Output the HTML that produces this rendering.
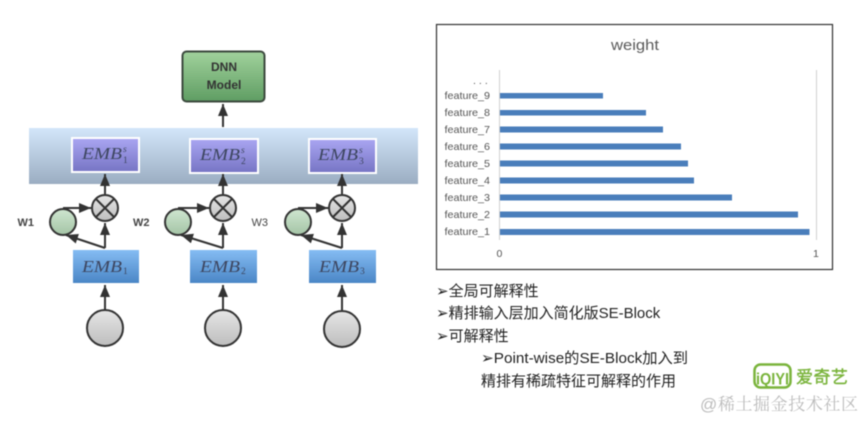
<!DOCTYPE html>
<html>
<head>
<meta charset="utf-8">
<style>
html,body{margin:0;padding:0;background:#fff;width:866px;height:422px;overflow:hidden}
svg{display:block}
.b{filter:blur(.45px)}
text{font-family:"Liberation Sans","Noto Sans CJK SC",sans-serif}
.m{font-family:"Liberation Serif",serif;font-style:italic;font-size:17px;fill:#3d4660}
.s{font-family:"Liberation Serif",serif;font-size:9.5px;fill:#3d4660}
.f{font-size:10.500px;fill:#555}
.w{font-size:11px;font-weight:bold;fill:#444}
.t{font-size:15px;fill:#222;font-family:"Liberation Sans","Noto Sans CJK SC",sans-serif}
</style>
</head>
<body>
<svg width="866" height="422" viewBox="0 0 866 422" xmlns="http://www.w3.org/2000/svg">
<defs>
<linearGradient id="band" x1="0" y1="0" x2="0" y2="1"><stop offset="0" stop-color="#d3e6fa"/><stop offset="1" stop-color="#9badc2"/></linearGradient>
<linearGradient id="pur" x1="0" y1="0" x2="0" y2="1"><stop offset="0" stop-color="#aaa6f2"/><stop offset="1" stop-color="#7674c4"/></linearGradient>
<linearGradient id="blu" x1="0" y1="0" x2="0" y2="1"><stop offset="0" stop-color="#85bcf3"/><stop offset="1" stop-color="#4a86c6"/></linearGradient>
<linearGradient id="gry" x1="0" y1="0" x2="0" y2="1"><stop offset="0" stop-color="#e6e6e6"/><stop offset="1" stop-color="#bdbdbd"/></linearGradient>
<linearGradient id="grn" x1="0" y1="0" x2="0" y2="1"><stop offset="0" stop-color="#cfe6d0"/><stop offset="1" stop-color="#a4c4a6"/></linearGradient>
<linearGradient id="dnn" x1="0" y1="0" x2="0" y2="1"><stop offset="0" stop-color="#a1d29c"/><stop offset="1" stop-color="#5f9d63"/></linearGradient>
<marker id="ah" markerUnits="userSpaceOnUse" markerWidth="14" markerHeight="12" refX="12" refY="5" orient="auto"><path d="M0,0 L12,5 L0,10 Z" fill="#333"/></marker>
</defs>
<rect width="866" height="422" fill="#fff"/>
<g class="b">
<rect x="29" y="128" width="389" height="56" fill="url(#band)"/>

<rect x="182.500" y="51.500" width="82" height="50" rx="4" fill="url(#dnn)" stroke="#3c4a3e" stroke-width="2"/>
<text x="224" y="71" text-anchor="middle" font-size="12" font-weight="bold" fill="#333">DNN</text>
<text x="224" y="89" text-anchor="middle" font-size="12" font-weight="bold" fill="#333">Model</text>
<path d="M223,127 V104" stroke="#333" stroke-width="2" fill="none" marker-end="url(#ah)"/>

<g id="c1">
<rect x="72" y="138" width="67" height="34" fill="url(#pur)" stroke="#fff" stroke-width="2"/>
<text class="m" x="82" y="159" textLength="40" lengthAdjust="spacingAndGlyphs">EMB</text><text class="s" x="123" y="152" font-style="italic">s</text><text class="s" x="123" y="163">1</text>
<path d="M105,194 V174" stroke="#333" stroke-width="2" fill="none" marker-end="url(#ah)"/>
<circle cx="105" cy="208" r="13" fill="url(#gry)" stroke="#333" stroke-width="2"/>
<path d="M96,199 L114,217 M114,199 L96,217" stroke="#333" stroke-width="2"/>
<circle cx="63" cy="222" r="13" fill="url(#grn)" stroke="#333" stroke-width="2"/>
<path d="M63,208 H91" stroke="#333" stroke-width="2" fill="none" marker-end="url(#ah)"/>
<path d="M105,248 V223" stroke="#333" stroke-width="2" fill="none" marker-end="url(#ah)"/>
<path d="M105,248 L66,235" stroke="#333" stroke-width="2" fill="none" marker-end="url(#ah)"/>
<rect x="73" y="250" width="66" height="33" fill="url(#blu)"/>
<text class="m" x="82" y="272" textLength="40" lengthAdjust="spacingAndGlyphs">EMB</text><text class="s" x="123" y="274">1</text>
<path d="M105,310 V285" stroke="#333" stroke-width="2" fill="none" marker-end="url(#ah)"/>
<circle cx="105" cy="328" r="18" fill="url(#gry)" stroke="#333" stroke-width="2"/>
</g>

<g id="c2">
<rect x="190" y="139" width="68" height="34" fill="url(#pur)" stroke="#fff" stroke-width="2"/>
<text class="m" x="200" y="160" textLength="40" lengthAdjust="spacingAndGlyphs">EMB</text><text class="s" x="241" y="153" font-style="italic">s</text><text class="s" x="241" y="164">2</text>
<path d="M223,194 V174" stroke="#333" stroke-width="2" fill="none" marker-end="url(#ah)"/>
<circle cx="223" cy="208" r="13" fill="url(#gry)" stroke="#333" stroke-width="2"/>
<path d="M214,199 L232,217 M232,199 L214,217" stroke="#333" stroke-width="2"/>
<circle cx="178" cy="222" r="13" fill="url(#grn)" stroke="#333" stroke-width="2"/>
<path d="M178,208 H209" stroke="#333" stroke-width="2" fill="none" marker-end="url(#ah)"/>
<path d="M223,248 V223" stroke="#333" stroke-width="2" fill="none" marker-end="url(#ah)"/>
<path d="M223,248 L181,235" stroke="#333" stroke-width="2" fill="none" marker-end="url(#ah)"/>
<rect x="190" y="250" width="67" height="33" fill="url(#blu)"/>
<text class="m" x="200" y="272" textLength="40" lengthAdjust="spacingAndGlyphs">EMB</text><text class="s" x="241" y="274">2</text>
<path d="M223,310 V285" stroke="#333" stroke-width="2" fill="none" marker-end="url(#ah)"/>
<circle cx="223" cy="328" r="18" fill="url(#gry)" stroke="#333" stroke-width="2"/>
</g>

<g id="c3">
<rect x="309" y="139" width="67" height="34" fill="url(#pur)" stroke="#fff" stroke-width="2"/>
<text class="m" x="318" y="160" textLength="40" lengthAdjust="spacingAndGlyphs">EMB</text><text class="s" x="359" y="153" font-style="italic">s</text><text class="s" x="359" y="164">3</text>
<path d="M342,194 V174" stroke="#333" stroke-width="2" fill="none" marker-end="url(#ah)"/>
<circle cx="342" cy="208" r="13" fill="url(#gry)" stroke="#333" stroke-width="2"/>
<path d="M333,199 L351,217 M351,199 L333,217" stroke="#333" stroke-width="2"/>
<circle cx="298" cy="222" r="13" fill="url(#grn)" stroke="#333" stroke-width="2"/>
<path d="M298,208 H328" stroke="#333" stroke-width="2" fill="none" marker-end="url(#ah)"/>
<path d="M342,248 V223" stroke="#333" stroke-width="2" fill="none" marker-end="url(#ah)"/>
<path d="M342,248 L301,235" stroke="#333" stroke-width="2" fill="none" marker-end="url(#ah)"/>
<rect x="309" y="250" width="67" height="33" fill="url(#blu)"/>
<text class="m" x="319" y="272" textLength="40" lengthAdjust="spacingAndGlyphs">EMB</text><text class="s" x="360" y="274">3</text>
<path d="M342,310 V285" stroke="#333" stroke-width="2" fill="none" marker-end="url(#ah)"/>
<circle cx="342" cy="329" r="18" fill="url(#gry)" stroke="#333" stroke-width="2"/>
</g>

<text class="w" x="17.500" y="226">W1</text>
<text class="w" x="133" y="226">W2</text>
<text class="w" x="251.500" y="226" style="font-weight:normal">W3</text>

<rect x="436.500" y="24.500" width="396" height="245" fill="#fff" stroke="#333" stroke-width="1.200"/>
<text x="611" y="50" font-size="15" fill="#595959" textLength="48" lengthAdjust="spacingAndGlyphs">weight</text>
<path d="M499.500,70 V240 M816.500,70 V240" stroke="#d0d0d0" stroke-width="1"/>
<g fill="#4a7ebb">
<rect x="500" y="93" width="103" height="5.500"/>
<rect x="500" y="110" width="146" height="5.500"/>
<rect x="500" y="126.500" width="163" height="6"/>
<rect x="500" y="143.500" width="181" height="6"/>
<rect x="500" y="160.500" width="188" height="6"/>
<rect x="500" y="177.500" width="194" height="6"/>
<rect x="500" y="194.500" width="232" height="6"/>
<rect x="500" y="211.500" width="298" height="6"/>
<rect x="500" y="229" width="309.500" height="6"/>
</g>
<text class="f" x="473" y="84" letter-spacing="3">...</text>
<text class="f" x="444.500" y="99" textLength="45.500" lengthAdjust="spacingAndGlyphs">feature_9</text>
<text class="f" x="444.500" y="116" textLength="45.500" lengthAdjust="spacingAndGlyphs">feature_8</text>
<text class="f" x="444.500" y="133" textLength="45.500" lengthAdjust="spacingAndGlyphs">feature_7</text>
<text class="f" x="444.500" y="150" textLength="45.500" lengthAdjust="spacingAndGlyphs">feature_6</text>
<text class="f" x="444.500" y="167" textLength="45.500" lengthAdjust="spacingAndGlyphs">feature_5</text>
<text class="f" x="444.500" y="184" textLength="45.500" lengthAdjust="spacingAndGlyphs">feature_4</text>
<text class="f" x="444.500" y="201" textLength="45.500" lengthAdjust="spacingAndGlyphs">feature_3</text>
<text class="f" x="444.500" y="218" textLength="45.500" lengthAdjust="spacingAndGlyphs">feature_2</text>
<text class="f" x="444.500" y="235" textLength="45.500" lengthAdjust="spacingAndGlyphs">feature_1</text>
<text class="f" x="496.500" y="257">0</text>
<text class="f" x="813" y="257">1</text>

<text class="t" x="436" y="296">➢全局可解释性</text>
<text class="t" x="436" y="318">➢精排输入层加入简化版SE-Block</text>
<text class="t" x="436" y="341">➢可解释性</text>
<text class="t" x="481" y="363" textLength="207" lengthAdjust="spacingAndGlyphs">➢Point-wise的SE-Block加入到</text>
<text class="t" x="481" y="386">精排有稀疏特征可解释的作用</text>

<rect x="754.500" y="364.500" width="36" height="23" rx="6" fill="none" stroke="#7ab43c" stroke-width="2.500"/>
<text x="756" y="384.500" font-size="17" font-weight="bold" fill="#7ab43c" textLength="33" lengthAdjust="spacingAndGlyphs">iQIYI</text>
<text x="796" y="383" font-size="17" fill="#7ab43c" stroke="#7ab43c" stroke-width=".4" textLength="52">爱奇艺</text>
<text x="700" y="410" font-size="17" fill="#bcbcbc" textLength="158" style='font-family:"Liberation Sans","Noto Serif CJK SC",serif'>@稀土掘金技术社区</text>
</g>
</svg>
</body>
</html>
